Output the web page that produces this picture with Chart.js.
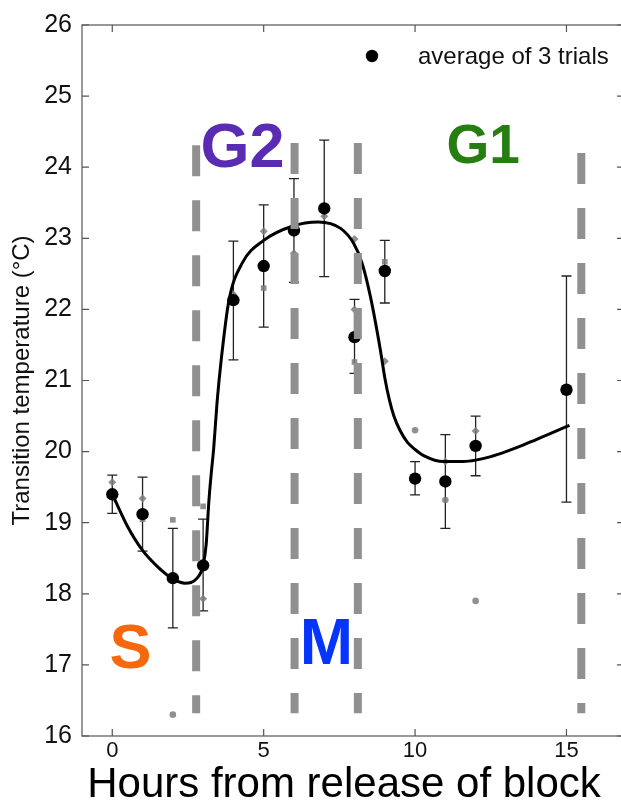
<!DOCTYPE html>
<html><head><meta charset="utf-8">
<script src="https://cdn.jsdelivr.net/npm/chart.js@4.4.1/dist/chart.umd.min.js"></script>
<style>
html,body{margin:0;padding:0;overflow:hidden;background:#fff;width:621px;height:804px}
#wrap{width:640px;height:804px}
canvas{display:block}
</style></head><body><div id="wrap"><canvas id="c" width="640" height="804"></canvas></div>
<script>
// ---- data ----
const xTickValues = [0, 5, 10, 15];
const yTickValues = [16, 17, 18, 19, 20, 21, 22, 23, 24, 25, 26];
const hours    = [0, 1, 2, 3, 4, 5, 6, 7, 8, 9, 10, 11, 12, 15];
const meanTemp = [19.40, 19.12, 18.22, 18.40, 22.13, 22.61, 23.11, 23.42, 21.61, 22.54, 19.62, 19.58, 20.08, 20.87];
const errHigh  = [19.67, 19.64, 18.92, 19.05, 22.96, 23.47, 23.84, 24.38, 22.14, 22.97, 19.86, 20.24, 20.50, 22.47];
const errLow   = [19.13, 18.60, 17.52, 17.76, 21.29, 21.75, 22.38, 22.46, 21.10, 22.09, 19.39, 18.92, 19.66, 19.29];

const trialDiamondX = [0, 1, 3, 4, 5, 6, 7, 8, 8, 9, 11, 12];
const trialDiamondY = [19.57, 19.34, 17.93, 22.21, 23.10, 22.79, 23.31, 22.99, 22.00, 21.27, 19.86, 20.29];
const trialSquareX  = [1, 2, 3, 5, 6, 8, 9];
const trialSquareY  = [19.05, 19.04, 19.23, 22.30, 23.40, 21.26, 22.67];
const trialCircleX  = [2, 10, 11, 12];
const trialCircleY  = [16.30, 20.30, 19.32, 17.90];

const fitX = [0, 0.5, 1.0, 1.5, 2.0, 2.4, 2.8, 3.0, 3.1, 3.19, 3.27, 3.35, 3.46, 3.6, 3.85, 4.29, 5.0, 5.94, 6.8, 7.54, 7.97, 8.25, 8.52, 8.85, 9.0, 9.15, 9.3, 9.5, 9.75, 10.0, 10.3, 10.94, 11.6, 12.0, 12.5, 13.0, 13.5, 14.0, 14.5, 15.1];
const fitY = [19.40, 18.95, 18.61, 18.38, 18.21, 18.15, 18.22, 18.40, 18.69, 19.30, 19.70, 20.05, 20.69, 21.30, 22.12, 22.65, 22.97, 23.17, 23.23, 23.14, 22.93, 22.65, 22.19, 21.44, 21.04, 20.73, 20.50, 20.30, 20.13, 20.03, 19.94, 19.86, 19.86, 19.88, 19.93, 20.00, 20.08, 20.17, 20.26, 20.37];

const boundaryX      = [2.77, 6.02, 8.11, 15.49];
const boundaryTop    = [24.31, 24.34, 24.34, 24.20];
const boundaryBottom = [16.32, 16.32, 16.32, 16.32];

const phaseNames = ['G2', 'G1', 'S', 'M'];
const phaseX     = [4.3, 12.25, 0.6, 7.07];
const phaseY     = [24.32, 24.33, 17.27, 17.34];

const legendText = 'average of 3 trials';
const xTitle = 'Hours from release of block';
const yTitle = 'Transition temperature (\u00B0C)';

// ---- styles ----
const FONT = '"Liberation Sans", Arial, Helvetica, sans-serif';
const phaseColors = ['#5a2bb3', '#267d10', '#f5680c', '#0534ff'];
const phaseSizes  = [63, 55, 63, 64];
const GRAY = 'rgba(125,125,125,0.85)';

const toPts = (xs, ys) => xs.map((x, i) => ({x: x, y: ys[i]}));

const datasets = [];
boundaryX.forEach((bx, i) => {
  datasets.push({
    type: 'line', data: [{x: bx, y: boundaryTop[i]}, {x: bx, y: boundaryBottom[i]}],
    borderColor: '#909090', borderWidth: 8, borderDash: [31, 24], borderCapStyle: 'butt',
    pointRadius: 0, fill: false, order: 0
  });
});
datasets.push({
  type: 'line', data: toPts(fitX, fitY), borderColor: '#000', borderWidth: 3,
  pointRadius: 0, fill: false, cubicInterpolationMode: 'monotone', order: 2
});
datasets.push({
  type: 'scatter', data: toPts(hours, meanTemp), backgroundColor: '#000', borderColor: '#000',
  pointRadius: 6.2, borderWidth: 0, order: 1
});
datasets.push({type: 'scatter', data: toPts(trialDiamondX, trialDiamondY), pointStyle: 'rectRot',
  backgroundColor: GRAY, borderWidth: 0, pointRadius: 4, order: 3});
datasets.push({type: 'scatter', data: toPts(trialSquareX, trialSquareY), pointStyle: 'rect',
  backgroundColor: GRAY, borderWidth: 0, pointRadius: 4, order: 3});
datasets.push({type: 'scatter', data: toPts(trialCircleX, trialCircleY), pointStyle: 'circle',
  backgroundColor: GRAY, borderWidth: 0, pointRadius: 3.3, order: 3});

const decor = {
  id: 'decor',
  beforeDatasetsDraw(chart) {
    const {ctx, scales: {x, y}} = chart;
    ctx.save();
    ctx.strokeStyle = '#222';
    ctx.lineWidth = 1.3;
    hours.forEach((h, i) => {
      const px = x.getPixelForValue(h);
      const yt = y.getPixelForValue(errHigh[i]);
      const yb = y.getPixelForValue(errLow[i]);
      ctx.beginPath();
      ctx.moveTo(px, yt); ctx.lineTo(px, yb);
      ctx.moveTo(px - 5, yt); ctx.lineTo(px + 5, yt);
      ctx.moveTo(px - 5, yb); ctx.lineTo(px + 5, yb);
      ctx.stroke();
    });
    ctx.restore();
  },
  afterDraw(chart) {
    const {ctx, chartArea: a, scales: {x, y}} = chart;
    ctx.save();
    // frame
    ctx.strokeStyle = '#555';
    ctx.lineWidth = 1.2;
    ctx.strokeRect(a.left, a.top, a.right - a.left, a.bottom - a.top);
    ctx.beginPath();
    x.ticks.forEach(t => {
      const px = x.getPixelForValue(t.value);
      ctx.moveTo(px, a.bottom); ctx.lineTo(px, a.bottom - 7);
      ctx.moveTo(px, a.top); ctx.lineTo(px, a.top + 7);
    });
    y.ticks.forEach(t => {
      const py = y.getPixelForValue(t.value);
      ctx.moveTo(a.left, py); ctx.lineTo(a.left + 7, py);
      ctx.moveTo(a.right, py); ctx.lineTo(a.right - 7, py);
    });
    ctx.stroke();
    // legend
    ctx.fillStyle = '#000';
    ctx.beginPath();
    ctx.arc(a.left + 290, a.top + 31, 6.2, 0, Math.PI * 2);
    ctx.fill();
    ctx.fillStyle = '#111';
    ctx.font = '24px ' + FONT;
    ctx.textAlign = 'left';
    ctx.textBaseline = 'middle';
    ctx.fillText(legendText, a.left + 336, a.top + 32);
    // x axis title
    ctx.fillStyle = '#000';
    ctx.font = '42px ' + FONT;
    ctx.textAlign = 'center';
    ctx.textBaseline = 'alphabetic';
    ctx.fillText(xTitle, a.left + 262, a.bottom + 61);
    // phase labels
    phaseNames.forEach((n, i) => {
      const s = phaseSizes[i];
      ctx.font = 'bold ' + s + 'px ' + FONT;
      ctx.fillStyle = phaseColors[i];
      ctx.fillText(n, x.getPixelForValue(phaseX[i]), y.getPixelForValue(phaseY[i]) + 0.358 * s);
    });
    ctx.restore();
  }
};

new Chart(document.getElementById('c'), {
  type: 'scatter',
  data: {datasets: datasets},
  options: {
    responsive: false, animation: false, devicePixelRatio: 1,
    layout: {padding: {top: 21, right: 16, left: 0, bottom: 0}},
    plugins: {legend: {display: false}, tooltip: {enabled: false}},
    scales: {
      x: {
        type: 'linear', min: -1, max: 16.9,
        afterBuildTicks: s => { s.ticks = xTickValues.map(v => ({value: v})); },
        afterFit: s => { s.height = 68; },
        grid: {display: false, drawTicks: false}, border: {display: false},
        ticks: {padding: 2, color: '#111', font: {family: FONT, size: 22}, maxRotation: 0, autoSkip: false, callback: v => String(v)},
        title: {display: false, text: xTitle}
      },
      y: {
        type: 'linear', min: 16, max: 26,
        afterBuildTicks: s => { s.ticks = yTickValues.map(v => ({value: v})); },
        afterFit: s => { s.width = 82; },
        grid: {display: false, drawTicks: false}, border: {display: false},
        ticks: {padding: 10, color: '#111', font: {family: FONT, size: 25}, autoSkip: false, callback: v => String(v)},
        title: {display: true, text: yTitle, color: '#111', font: {family: FONT, size: 24, lineHeight: 1}, padding: {top: 10, bottom: 0}}
      }
    }
  },
  plugins: [decor]
});
</script></body></html>
